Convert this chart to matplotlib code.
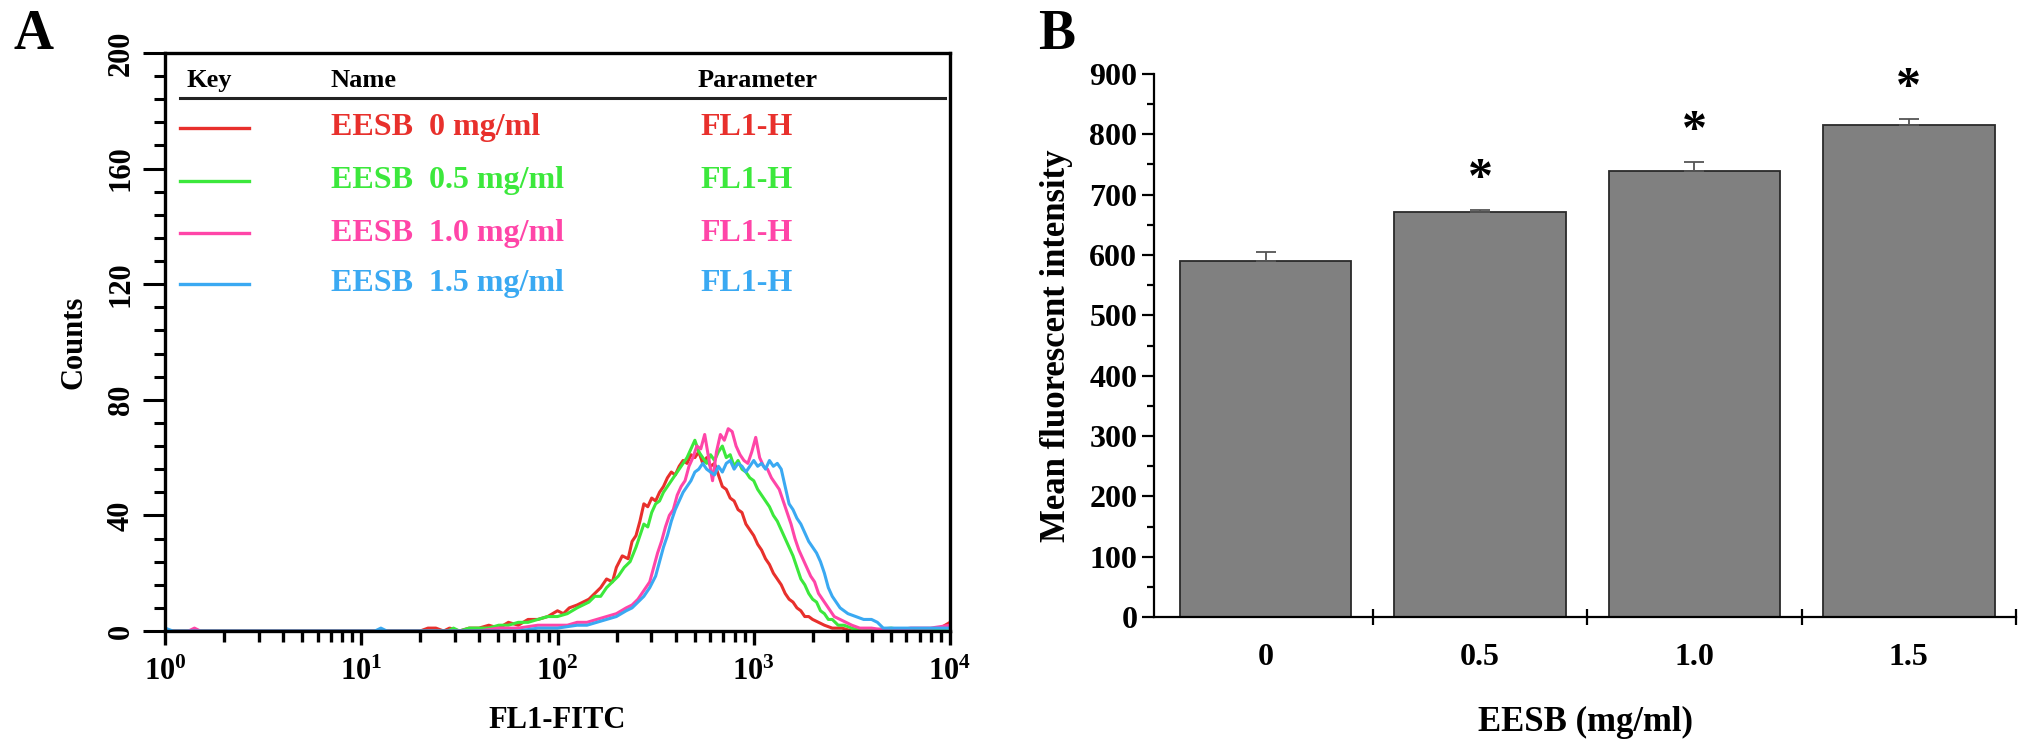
import numpy as np
import matplotlib
matplotlib.use("Agg")
import matplotlib.pyplot as plt
from matplotlib.ticker import FixedLocator, LogLocator, NullFormatter, MultipleLocator
from matplotlib.lines import Line2D

plt.rcParams['font.family'] = ['Liberation Serif', 'DejaVu Serif']
plt.rcParams['font.weight'] = 'bold'
plt.rcParams['mathtext.fontset'] = 'custom'
plt.rcParams['mathtext.rm'] = 'Liberation Serif:bold'
plt.rcParams['mathtext.bf'] = 'Liberation Serif:bold'
plt.rcParams['mathtext.it'] = 'Liberation Serif:bold'

# ---------------- Panel A data (histogram traces, x given as log10 of FL1-FITC) ----------------
series_names = ['EESB  0 mg/ml', 'EESB  0.5 mg/ml', 'EESB  1.0 mg/ml', 'EESB  1.5 mg/ml']
series_param = ['FL1-H', 'FL1-H', 'FL1-H', 'FL1-H']
series_colors = ['#e8302c', '#3ce83c', '#ff45a8', '#3aa9f2']

red_log = [0.0, 1.30, 1.34, 1.38, 1.42, 1.45, 1.50, 1.55, 1.60, 1.65, 1.70, 1.75, 1.80, 1.85, 1.90, 1.95,
           2.00, 2.03, 2.06, 2.10, 2.13, 2.16, 2.19, 2.22, 2.25, 2.28, 2.30, 2.33, 2.36, 2.38, 2.40, 2.42,
           2.44, 2.46, 2.48, 2.50, 2.52, 2.54, 2.56, 2.58, 2.60, 2.62, 2.64, 2.66, 2.68, 2.70, 2.72, 2.74,
           2.76, 2.78, 2.80, 2.82, 2.84, 2.86, 2.88, 2.90, 2.92, 2.94, 2.96, 2.98, 3.00, 3.02, 3.04, 3.06,
           3.08, 3.10, 3.12, 3.14, 3.16, 3.18, 3.20, 3.22, 3.24, 3.26, 3.28, 3.30, 3.33, 3.36, 3.40, 3.45,
           3.50, 3.60, 3.80, 3.95, 4.00]
red_cnt = [0, 0, 1, 1, 0, 1, 0, 1, 1, 2, 1, 3, 2, 4, 4, 5,
           7, 6, 8, 9, 10, 11, 13, 15, 18, 17, 22, 26, 25, 31, 33, 38,
           44, 43, 46, 45, 48, 50, 53, 55, 54, 57, 59, 58, 61, 60, 62, 58,
           60, 57, 58, 54, 50, 49, 46, 45, 42, 41, 37, 35, 33, 30, 28, 25,
           23, 20, 18, 16, 13, 11, 10, 8, 7, 5, 5, 4, 3, 2, 1, 1,
           0, 0, 0, 1, 3]

green_log = [0.0, 1.44, 1.47, 1.50, 1.55, 1.60, 1.65, 1.70, 1.75, 1.80, 1.85, 1.90, 1.95, 2.00, 2.05, 2.10,
             2.13, 2.16, 2.19, 2.22, 2.25, 2.28, 2.31, 2.34, 2.37, 2.40, 2.42, 2.44, 2.46, 2.48, 2.50, 2.52,
             2.54, 2.56, 2.58, 2.60, 2.62, 2.64, 2.66, 2.68, 2.70, 2.72, 2.74, 2.76, 2.78, 2.80, 2.82, 2.84,
             2.86, 2.88, 2.90, 2.92, 2.94, 2.96, 2.98, 3.00, 3.02, 3.04, 3.06, 3.08, 3.10, 3.12, 3.14, 3.16,
             3.18, 3.20, 3.22, 3.24, 3.26, 3.28, 3.30, 3.32, 3.34, 3.36, 3.38, 3.40, 3.43, 3.46, 3.50, 3.55,
             3.70, 3.80, 4.00]
green_cnt = [0, 0, 1, 0, 1, 1, 1, 2, 2, 3, 3, 4, 5, 5, 6, 8,
             9, 10, 12, 12, 15, 17, 19, 22, 24, 29, 33, 37, 36, 41, 44, 45,
             48, 50, 52, 54, 56, 58, 60, 63, 66, 62, 60, 58, 61, 59, 62, 64,
             60, 61, 57, 59, 56, 55, 53, 52, 49, 47, 45, 43, 40, 38, 35, 32,
             29, 26, 22, 18, 16, 13, 11, 10, 7, 6, 4, 4, 2, 2, 1, 0,
             1, 0, 1]

pink_log = [0.0, 0.12, 0.15, 0.18, 1.60, 1.70, 1.80, 1.90, 2.00, 2.05, 2.10, 2.15, 2.20, 2.25, 2.30, 2.35,
            2.38, 2.41, 2.44, 2.47, 2.49, 2.51, 2.53, 2.55, 2.57, 2.59, 2.61, 2.63, 2.65, 2.67, 2.69, 2.71,
            2.73, 2.75, 2.77, 2.79, 2.81, 2.83, 2.85, 2.87, 2.89, 2.91, 2.93, 2.95, 2.97, 2.99, 3.01, 3.03,
            3.05, 3.07, 3.09, 3.11, 3.13, 3.15, 3.17, 3.19, 3.21, 3.23, 3.25, 3.27, 3.29, 3.31, 3.33, 3.35,
            3.37, 3.39, 3.41, 3.44, 3.47, 3.50, 3.54, 3.60, 3.70, 3.80, 3.90, 4.00]
pink_cnt = [0, 0, 1, 0, 0, 1, 1, 2, 2, 2, 3, 3, 4, 5, 6, 8,
            9, 11, 14, 17, 22, 27, 31, 36, 40, 42, 47, 50, 52, 57, 60, 64,
            63, 68, 60, 52, 62, 68, 66, 70, 69, 64, 61, 59, 58, 62, 67, 60,
            57, 56, 53, 51, 49, 45, 41, 37, 32, 28, 25, 22, 19, 17, 13, 11,
            9, 7, 5, 4, 3, 2, 1, 1, 0, 1, 1, 2]

blue_log = [0.0, 0.04, 1.07, 1.10, 1.13, 1.80, 1.90, 2.00, 2.10, 2.15, 2.20, 2.25, 2.30, 2.35, 2.38, 2.41,
            2.44, 2.47, 2.50, 2.52, 2.54, 2.56, 2.58, 2.60, 2.62, 2.64, 2.66, 2.68, 2.70, 2.72, 2.74, 2.76,
            2.78, 2.80, 2.82, 2.84, 2.86, 2.88, 2.90, 2.92, 2.94, 2.96, 2.98, 3.00, 3.02, 3.04, 3.06, 3.08,
            3.10, 3.12, 3.14, 3.16, 3.18, 3.20, 3.22, 3.24, 3.26, 3.28, 3.30, 3.32, 3.34, 3.36, 3.38, 3.40,
            3.42, 3.44, 3.46, 3.48, 3.52, 3.56, 3.60, 3.63, 3.66, 3.70, 3.75, 3.80, 3.90, 4.00]
blue_cnt = [1, 0, 0, 1, 0, 0, 1, 1, 2, 2, 3, 4, 5, 7, 8, 10,
            12, 15, 19, 24, 29, 33, 38, 42, 45, 48, 50, 52, 55, 56, 58, 56,
            55, 54, 57, 55, 58, 59, 56, 58, 57, 55, 57, 59, 57, 58, 56, 59,
            57, 58, 56, 50, 44, 42, 39, 37, 34, 31, 29, 27, 24, 20, 15, 12,
            10, 8, 7, 6, 5, 4, 4, 3, 1, 1, 1, 1, 1, 1]

traces_log = [red_log, green_log, pink_log, blue_log]
traces_cnt = [red_cnt, green_cnt, pink_cnt, blue_cnt]

# ---------------- Panel B data ----------------
conc_labels = ['0', '0.5', '1.0', '1.5']
mfi_values = [590, 672, 739, 816]
mfi_errors = [15, 2, 15, 9]
significant = [False, True, True, True]

# ---------------- Figure ----------------
W, H = 2031, 751
fig = plt.figure(figsize=(W / 100, H / 100), dpi=100)

def frac_box(x0, y0, x1, y1):
    return [x0 / W, 1 - y1 / H, (x1 - x0) / W, (y1 - y0) / H]

# ===== Panel A =====
axA = fig.add_axes(frac_box(165, 53, 950, 631))
for lg, ct, col in zip(traces_log, traces_cnt, series_colors):
    axA.plot(10 ** np.array(lg, dtype=float), ct, color=col, lw=2.2, zorder=2, clip_on=True)
axA.set_xscale('log')
axA.set_xlim(1, 1e4)
axA.set_ylim(0, 200)
for s in axA.spines.values():
    s.set_linewidth(2.4)
    s.set_zorder(5)
axA.yaxis.set_major_locator(MultipleLocator(40))
axA.yaxis.set_minor_locator(MultipleLocator(8))
axA.xaxis.set_major_locator(FixedLocator([1, 10, 100, 1000, 10000]))
axA.xaxis.set_minor_locator(LogLocator(base=10, subs=np.arange(2, 10), numticks=20))
axA.xaxis.set_minor_formatter(NullFormatter())
axA.set_xticklabels([r'$10^{0}$', r'$10^{1}$', r'$10^{2}$', r'$10^{3}$', r'$10^{4}$'])
axA.tick_params(axis='x', which='major', direction='out', length=10, width=2.4, labelsize=22, pad=9)
axA.tick_params(axis='x', which='minor', direction='out', length=8, width=2.4)
axA.tick_params(axis='y', which='major', direction='out', length=16, width=2.2, labelsize=22,
                pad=5, labelrotation=90)
axA.tick_params(axis='y', which='minor', direction='out', length=8, width=2.2)
for lbl in axA.get_yticklabels():
    lbl.set_va('center')
axA.tick_params(top=False, right=False)
axA.set_xlabel('FL1-FITC', fontsize=22, fontweight='bold', labelpad=14)
axA.set_ylabel('Counts', fontsize=22, fontweight='bold', labelpad=13)

# key table inside panel A
hdr_y = 0.953
axA.text(0.028, hdr_y, 'Key', transform=axA.transAxes, fontsize=19, fontweight='bold', va='center', ha='left')
axA.text(0.211, hdr_y, 'Name', transform=axA.transAxes, fontsize=19, fontweight='bold', va='center', ha='left')
axA.text(0.678, hdr_y, 'Parameter', transform=axA.transAxes, fontsize=19, fontweight='bold', va='center', ha='left')
axA.add_line(Line2D([0.019, 0.994], [0.9216, 0.9216], transform=axA.transAxes, color='#222222', lw=2.2))
row_y = [0.871, 0.779, 0.688, 0.601]
for yy, name, par, col in zip(row_y, series_names, series_param, series_colors):
    axA.add_line(Line2D([0.019, 0.107], [yy, yy], transform=axA.transAxes, color=col, lw=2.4))
    axA.text(0.211, yy, name, transform=axA.transAxes, fontsize=23, fontweight='bold', color=col,
             va='center', ha='left')
    axA.text(0.682, yy, par, transform=axA.transAxes, fontsize=23, fontweight='bold', color=col,
             va='center', ha='left')

fig.text(34 / W, 1 - 35 / H, 'A', fontsize=40, fontweight='bold', ha='center', va='center')

# ===== Panel B =====
axB = fig.add_axes(frac_box(1154, 74, 2016, 617))
xpos = np.arange(len(conc_labels))
axB.bar(xpos, mfi_values, width=0.8, color='#808080', edgecolor='#2a2a2a', linewidth=1.3, zorder=2)
axB.errorbar(xpos, mfi_values, yerr=[np.zeros(len(mfi_errors)), mfi_errors], fmt='none',
             ecolor='#555555', elinewidth=1.3, capsize=7, capthick=1.3, zorder=3)
for x, v, e, sig in zip(xpos, mfi_values, mfi_errors, significant):
    if sig:
        axB.text(x, v + e + 12, '*', fontsize=36, fontweight='bold', ha='center', va='bottom')
axB.set_xlim(-0.52, 3.5)
axB.set_ylim(0, 900)
axB.spines['top'].set_visible(False)
axB.spines['right'].set_visible(False)
axB.spines['left'].set_linewidth(1.6)
axB.spines['bottom'].set_linewidth(1.6)
axB.yaxis.set_major_locator(MultipleLocator(100))
axB.yaxis.set_minor_locator(MultipleLocator(50))
axB.tick_params(axis='y', which='major', direction='out', length=9, width=1.6, labelsize=23, pad=3)
axB.tick_params(axis='y', which='minor', direction='out', length=5, width=1.6)
axB.xaxis.set_major_locator(FixedLocator([0.5, 1.5, 2.5, 3.5]))
axB.xaxis.set_major_formatter(NullFormatter())
axB.xaxis.set_minor_locator(FixedLocator(xpos))
axB.set_xticks(xpos, labels=conc_labels, minor=True)
axB.tick_params(axis='x', which='major', direction='inout', length=12, width=1.6)
axB.tick_params(axis='x', which='minor', length=0, labelsize=23, pad=19)
axB.set_xlabel('EESB (mg/ml)', fontsize=25, fontweight='bold', labelpad=24)
axB.set_ylabel('Mean fluorescent intensity', fontsize=25, fontweight='bold', labelpad=12)

fig.text(1057 / W, 1 - 35 / H, 'B', fontsize=40, fontweight='bold', ha='center', va='center')

fig.savefig('out.png', dpi=100)
